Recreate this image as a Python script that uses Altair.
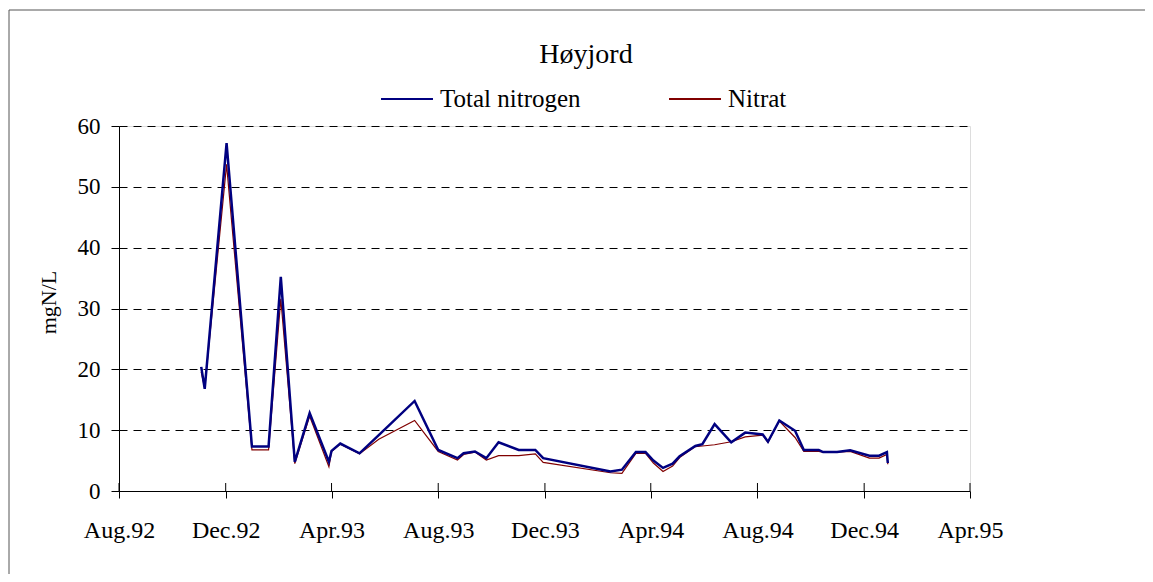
import altair as alt
import pandas as pd

# ---- data ----
chart_title = "Høyjord"
dates = [
    "1992-11-03", "1992-11-07", "1992-12-02", "1992-12-31", "1993-01-19",
    "1993-02-02", "1993-02-18", "1993-03-07", "1993-03-29", "1993-04-01",
    "1993-04-11", "1993-05-03", "1993-05-25", "1993-07-05", "1993-08-01",
    "1993-08-23", "1993-08-30", "1993-09-12", "1993-09-25", "1993-10-09",
    "1993-11-01", "1993-11-20", "1993-11-29", "1994-02-14", "1994-02-27",
    "1994-03-15", "1994-03-26", "1994-04-04", "1994-04-15", "1994-04-26",
    "1994-05-04", "1994-05-22", "1994-05-30", "1994-06-13", "1994-07-02",
    "1994-07-18", "1994-08-07", "1994-08-13", "1994-08-26", "1994-09-13",
    "1994-09-23", "1994-10-10", "1994-10-15", "1994-10-31", "1994-11-15",
    "1994-12-07", "1994-12-18", "1994-12-27", "1994-12-28",
]
total_nitrogen = [
    20.4, 16.8, 57.2, 7.3, 7.3,
    35.2, 4.8, 12.8, 4.8, 6.6,
    7.8, 6.2, 9.2, 14.8, 6.75,
    5.4, 6.2, 6.5, 5.4, 8.0,
    6.75, 6.75, 5.4, 3.2, 3.5,
    6.4, 6.4, 5.0, 3.8, 4.5,
    5.7, 7.4, 7.7, 11.0, 8.0,
    9.6, 9.3, 8.1, 11.6, 9.9,
    6.75, 6.75, 6.4, 6.4, 6.7,
    5.8, 5.8, 6.4, 4.6,
]
nitrat = [
    19.6, 16.9, 53.7, 6.75, 6.75,
    31.6, 4.5, 12.3, 4.0, 6.5,
    7.7, 6.1, 8.5, 11.6, 6.5,
    5.1, 6.0, 6.4, 5.1, 5.8,
    5.8, 6.1, 4.7, 3.0, 2.9,
    6.2, 6.2, 4.6, 3.2, 4.1,
    5.5, 7.3, 7.4, 7.6, 8.1,
    8.9, 9.2, 8.0, 11.5, 8.8,
    6.5, 6.5, 6.4, 6.4, 6.5,
    5.4, 5.4, 6.0, 4.4,
]
series_names = ["Total nitrogen", "Nitrat"]
series_colors = ["#000080", "#800000"]
x_tick_months = [(1992, 8), (1992, 12), (1993, 4), (1993, 8), (1993, 12),
                 (1994, 4), (1994, 8), (1994, 12), (1995, 4)]
y_ticks = [0, 10, 20, 30, 40, 50, 60]

# ---- build tables ----
long_df = pd.concat([
    pd.DataFrame({"date": dates, "value": total_nitrogen, "series": series_names[0]}),
    pd.DataFrame({"date": dates, "value": nitrat, "series": series_names[1]}),
], ignore_index=True)
tick_df = pd.DataFrame({"date": [f"{y}-{m:02d}-01" for y, m in x_tick_months]})

W, H = 851, 365
FONT = "Liberation Serif"

x_scale = alt.Scale(
    type="utc",
    domain=[alt.DateTime(year=x_tick_months[0][0], month=x_tick_months[0][1], date=1, utc=True),
            alt.DateTime(year=x_tick_months[-1][0], month=x_tick_months[-1][1], date=1, utc=True)],
)
y_scale = alt.Scale(domain=[y_ticks[0], y_ticks[-1]], nice=False)
color_scale = alt.Scale(domain=series_names, range=series_colors)

x_axis = alt.Axis(
    values=[alt.DateTime(year=y, month=m, date=1, utc=True) for y, m in x_tick_months],
    format="%b.%y", grid=False, title=None,
    tickSize=7, tickColor="#000", domainColor="#000",
    labelFont=FONT, labelFontSize=24, labelColor="#000", labelPadding=20,
    labelFlush=False, labelOverlap=False,
)
y_axis = alt.Axis(
    values=y_ticks, grid=True, gridDash=[8, 6], gridColor="#000", gridOpacity=1,
    tickSize=8, tickColor="#000", domainColor="#000",
    labelFont=FONT, labelFontSize=23, labelColor="#000", labelPadding=11,
    title="mgN/L", titleFont=FONT, titleFontSize=22, titleFontWeight="normal",
    titleColor="#000", titleX=-71, titleY=176, titleBaseline="middle", titleAlign="center",
)
legend = alt.Legend(
    orient="none", legendX=261, legendY=-54, direction="horizontal", title=None,
    symbolType="stroke", symbolSize=2700, symbolStrokeWidth=2,
    labelFont=FONT, labelFontSize=25, labelColor="#000", labelOffset=6,
    columnPadding=84,
)

base = alt.Chart(long_df)
enc = dict(
    x=alt.X("date:T", scale=x_scale, axis=x_axis),
    y=alt.Y("value:Q", scale=y_scale, axis=y_axis),
    color=alt.Color("series:N", scale=color_scale, legend=legend),
)
nit_line = base.transform_filter(alt.datum.series == series_names[1]).mark_line(strokeWidth=1.2).encode(**enc)
tot_line = base.transform_filter(alt.datum.series == series_names[0]).mark_line(strokeWidth=2.5).encode(**enc)

up_ticks = alt.Chart(tick_df).mark_rule(color="#000", strokeWidth=1).encode(
    x=alt.X("date:T", scale=x_scale),
    y=alt.value(H - 8), y2=alt.value(H),
)

# outer chart frame: only top and left edges are visible in the reference
frame_top = alt.Chart(alt.Data(values=[{}])).mark_rule(color="#555", strokeWidth=1).encode(
    x=alt.value(-110), x2=alt.value(1100), y=alt.value(-116),
)
frame_left = alt.Chart(alt.Data(values=[{}])).mark_rule(color="#555", strokeWidth=1).encode(
    x=alt.value(-110), y=alt.value(-116), y2=alt.value(600),
)

title_mark = alt.Chart(alt.Data(values=[{"t": chart_title}])).mark_text(
    font=FONT, fontSize=28, color="#000", align="center", baseline="alphabetic",
).encode(text="t:N", x=alt.value(467), y=alt.value(-63))

chart = alt.layer(frame_top, frame_left, nit_line, tot_line, up_ticks, title_mark).properties(
    width=W, height=H,
    autosize=alt.AutoSizeParams(type="none"),
    padding={"left": 111, "top": 118, "right": 175, "bottom": 83},
).configure_view(strokeWidth=0).configure(background="white")

chart.save("out.html", embed_options={"renderer": "svg", "actions": False})
